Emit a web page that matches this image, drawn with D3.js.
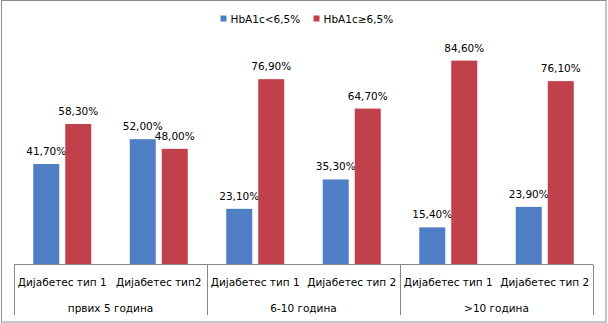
<!DOCTYPE html>
<html><head><meta charset="utf-8">
<script src="https://cdn.jsdelivr.net/npm/d3@7/dist/d3.min.js"></script>
<style>html,body{margin:0;padding:0;background:#fff}svg{display:block}</style>
</head><body>
<script>
const groups = ["првих 5 година", "6-10 година", ">10 година"];
const categories = ["Дијабетес тип 1", "Дијабетес тип2", "Дијабетес тип 1", "Дијабетес тип 2", "Дијабетес тип 1", "Дијабетес тип 2"];
const seriesNames = ["HbA1c<6,5%", "HbA1c≥6,5%"];
const lowValues = [41.7, 52.0, 23.1, 35.3, 15.4, 23.9];
const highValues = [58.3, 48.0, 76.9, 64.7, 84.6, 76.1];
const colors = ["#4F7EC4", "#C0404C"];

const W = 608, H = 323;
const font = "'DejaVu Sans', Verdana, sans-serif";
const svg = d3.select("body").append("svg").attr("width", W).attr("height", H);

svg.append("rect").attr("x", 1.5).attr("y", 0.5).attr("width", W - 3.5).attr("height", H - 1.5)
  .attr("fill", "#fff").attr("stroke", "#8c8c8c").attr("stroke-width", 1);

const left = 14, right = 593, base = 264.5;
const x = d3.scaleBand().domain(d3.range(categories.length)).range([left, right]).paddingInner(0).paddingOuter(0);
const y = d3.scaleLinear().domain([0, 100]).range([base, 23.5]);
const barW = 26, gap = 6;
const fmt = v => d3.format(".2f")(v).replace(".", ",") + "%";

const series = [lowValues, highValues];
series.forEach((vals, si) => {
  const off = si === 0 ? -(gap / 2 + barW) : gap / 2;
  const g = svg.append("g");
  g.selectAll("rect").data(vals).join("rect")
    .attr("x", (d, i) => x(i) + x.bandwidth() / 2 + off)
    .attr("y", d => y(d))
    .attr("width", barW)
    .attr("height", d => base - y(d))
    .attr("fill", colors[si]);
  g.selectAll("text").data(vals).join("text")
    .attr("x", (d, i) => x(i) + x.bandwidth() / 2 + off + barW / 2)
    .attr("y", d => y(d) - 9)
    .attr("text-anchor", "middle")
    .attr("font-family", font).attr("font-size", 10.5).attr("fill", "#000")
    .text(fmt);
});

// axis
svg.append("line").attr("x1", left).attr("x2", right).attr("y1", base).attr("y2", base)
  .attr("stroke", "#868686");
const sepX = d3.range(groups.length + 1).map(i => x(i * 2) !== undefined ? x(i * 2) : right);
sepX.forEach(sx => {
  svg.append("line").attr("x1", Math.round(sx) + 0.5).attr("x2", Math.round(sx) + 0.5)
    .attr("y1", base).attr("y2", 315).attr("stroke", "#868686");
});
svg.append("g").selectAll("text").data(categories).join("text")
  .attr("x", (d, i) => x(i) + x.bandwidth() / 2)
  .attr("y", 286)
  .attr("text-anchor", "middle")
  .attr("font-family", font).attr("font-size", 10.5).attr("fill", "#000")
  .text(d => d);
svg.append("g").selectAll("text").data(groups).join("text")
  .attr("x", (d, i) => x(i * 2) + x.bandwidth())
  .attr("y", 312)
  .attr("text-anchor", "middle")
  .attr("font-family", font).attr("font-size", 10.5).attr("fill", "#000")
  .text(d => d);

// legend
const legX = [220.5, 313.5];
seriesNames.forEach((n, i) => {
  svg.append("rect").attr("x", legX[i]).attr("y", 15.5).attr("width", 6).attr("height", 6).attr("fill", colors[i]);
  svg.append("text").attr("x", legX[i] + 10).attr("y", 22.5)
    .attr("font-family", font).attr("font-size", 10.5).attr("fill", "#000").text(n);
});
</script>
</body></html>
